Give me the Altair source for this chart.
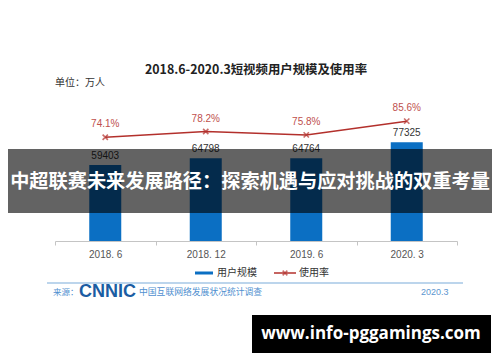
import altair as alt
import pandas as pd

# ---- data ----
periods = ["2018. 6", "2018. 12", "2019. 6", "2020. 3"]
users = [59403, 64798, 64764, 77325]
rates = [74.1, 78.2, 75.8, 85.6]
rate_labels = ["74.1%", "78.2%", "75.8%", "85.6%"]

title_text = ["2018.6-2020.3短视频用户规模及使用率"]
unit_text = ["单位：万人"]
legend_bar = ["用户规模"]
legend_line = ["使用率"]
source_label = ["来源："]
source_logo = ["CNNIC"]
source_name = ["中国互联网络发展状况统计调查"]
source_date = ["2020.3"]
banner_text = ["中超联赛未来发展路径：探索机遇与应对挑战的双重考量"]
watermark_text = ["www.info-pggamings.com"]

df = pd.DataFrame({"period": periods, "users": users, "rate": rates, "rate_label": rate_labels})

CJK = "Noto Sans CJK SC"
LAT = "Liberation Sans"
BLUE = "#0b6fc3"
RED = "#b3302c"

base = alt.Chart(df)

x_enc = alt.X(
    "period:N", sort=periods, title=None,
    scale=alt.Scale(paddingInner=0, paddingOuter=0),
    axis=alt.Axis(labelAngle=0, labelFont=LAT, labelFontSize=10, labelColor="#555555",
                  domainColor="#c4c4c4", tickColor="#c4c4c4", tickBand="extent",
                  tickSize=4, labelPadding=4, domainWidth=1.2),
)
y_users = alt.Y("users:Q", scale=alt.Scale(domain=[0, 109600]), axis=None)
y_rate = alt.Y("rate:Q", scale=alt.Scale(domain=[0, 100]), axis=None)

bars = base.mark_bar(size=32, color=BLUE).encode(x=x_enc, y=y_users)
bar_labels = base.mark_text(dy=-9, font=LAT, fontSize=10, color="#333333").encode(
    x=alt.X("period:N", sort=periods), y=y_users, text="users:Q")
line = base.mark_line(color=RED, strokeWidth=1.5).encode(x=alt.X("period:N", sort=periods), y=y_rate)
pts = base.mark_point(shape="M-1,-1L1,1M1,-1L-1,1", filled=False, size=28,
                      strokeWidth=1.6, color=RED).encode(x=alt.X("period:N", sort=periods), y=y_rate)
rate_text = base.mark_text(dy=-13, font=LAT, fontSize=10, color="#c0504d").encode(
    x=alt.X("period:N", sort=periods), y=y_rate, text="rate_label:N")


def txt(values, px, py, size, color, font=CJK, weight="normal", align="left", opacity=1.0):
    d = pd.DataFrame({"t": values})
    return alt.Chart(d).mark_text(align=align, baseline="middle", font=font, fontSize=size,
                                  fontWeight=weight, color=color, opacity=opacity).encode(
        x=alt.value(px), y=alt.value(py), text="t:N")


dummy = pd.DataFrame({"k": [0]})

title = txt(title_text, 201, -31, 12.4, "#222222", weight="bold", align="center")
unit = txt(unit_text, 0, -18, 10, "#333333")

leg_bar_sw = alt.Chart(dummy).mark_rule(color=BLUE, strokeWidth=3).encode(
    x=alt.value(140), x2=alt.value(158), y=alt.value(172))
leg_bar_t = txt(legend_bar, 162, 172, 10, "#333333")
leg_line_sw = alt.Chart(dummy).mark_rule(color=RED, strokeWidth=1.5).encode(
    x=alt.value(219), x2=alt.value(241), y=alt.value(172))
leg_line_pt = alt.Chart(dummy).mark_point(shape="M-1,-1L1,1M1,-1L-1,1", filled=False, size=22,
                                          strokeWidth=1.5, color=RED).encode(
    x=alt.value(230), y=alt.value(172))
leg_line_t = txt(legend_line, 244, 172, 10, "#333333")

sep = alt.Chart(dummy).mark_rule(color="#bcd5ec", strokeWidth=1.8).encode(
    x=alt.value(-8), x2=alt.value(408), y=alt.value(182))
src1 = txt(source_label, -2, 191, 8.5, "#4f8fcf")
src2 = txt(source_logo, 24, 191, 18, "#1b5da3", font=LAT, weight="bold")
src3 = txt(source_name, 84, 191, 8.8, "#4f8fcf")
src4 = txt(source_date, 366, 191, 9, "#5b95cf", font=LAT)

banner = alt.Chart(dummy).mark_rect(color="#000000", opacity=0.61).encode(
    x=alt.value(-47), x2=alt.value(437), y=alt.value(48), y2=alt.value(112))
banner_t = txt(banner_text, 195, 81, 19.2, "#ffffff", weight="bold", align="center")

wm_box = alt.Chart(dummy).mark_rect(color="#000000").encode(
    x=alt.value(197), x2=alt.value(436), y=alt.value(214), y2=alt.value(252))
wm_t = txt(watermark_text, 316, 233, 17, "#ffffff", font="Open Sans", weight="bold", align="center")

chart = alt.layer(
    bars, bar_labels, line, pts, rate_text,
    title, unit, leg_bar_sw, leg_bar_t, leg_line_sw, leg_line_pt, leg_line_t,
    sep, src1, src2, src3, src4, banner, banner_t, wm_box, wm_t,
).resolve_scale(y="independent").properties(
    width=402, height=140,
    padding={"left": 47, "top": 93, "right": 35, "bottom": 113},
    autosize=alt.AutoSizeParams(type="none"),
    background="#ffffff",
).configure_view(stroke=None)

chart.save("out.html", embed_options={"renderer": "svg", "actions": False})
